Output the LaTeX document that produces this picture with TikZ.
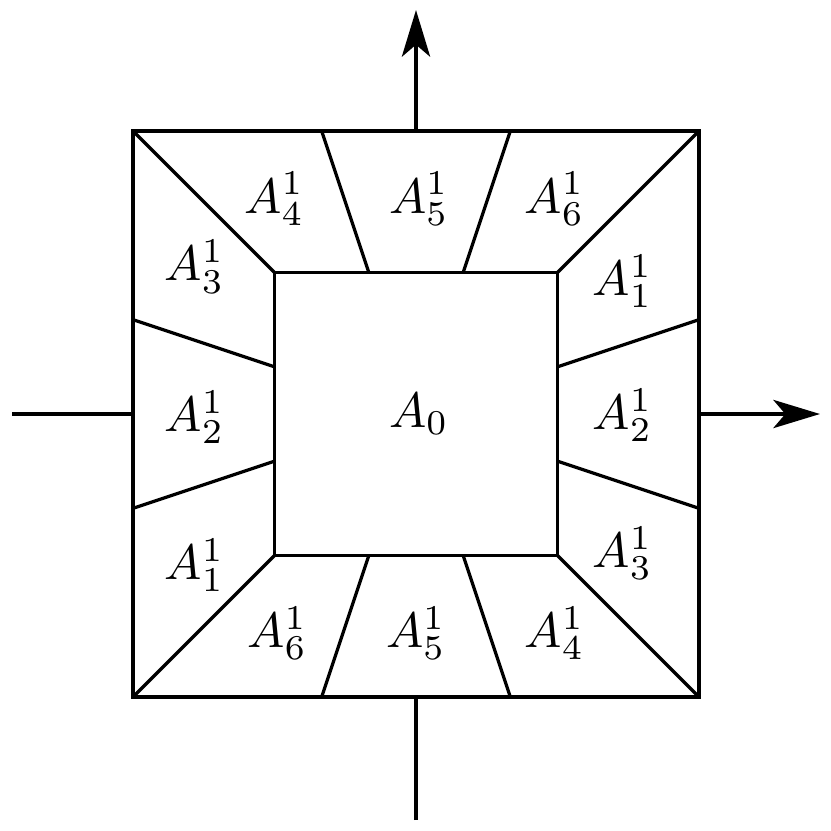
\documentclass[tikz,border=0pt]{standalone}
\usetikzlibrary{arrows.meta}
\begin{document}
\begin{tikzpicture}[
  every path/.style={line width=0.65pt, line join=miter},
  axisarrow/.style={-{Stealth[length=0.33cm,width=0.2cm,inset=0.085cm]}},
  lbl/.style={inner sep=0pt}
]
\useasboundingbox (-2.94,-2.94) rectangle (2.933,2.926);
% corners
\coordinate (O1) at (-2,2); \coordinate (O2) at (2,2);
\coordinate (O3) at (2,-2); \coordinate (O4) at (-2,-2);
\coordinate (I1) at (-1,1); \coordinate (I2) at (1,1);
\coordinate (I3) at (1,-1); \coordinate (I4) at (-1,-1);
% axes
\coordinate (xl) at (-2.855,0); \coordinate (xr) at (2.855,0);
\coordinate (yb) at (0,-2.87); \coordinate (yt) at (0,2.855);
\coordinate (ol) at (-2,0); \coordinate (or) at (2,0);
\coordinate (ob) at (0,-2); \coordinate (ot) at (0,2);
\draw (xl) -- (ol);
\draw[axisarrow] (or) -- (xr);
\draw (yb) -- (ob);
\draw[axisarrow] (ot) -- (yt);
% squares
\draw (O1) -- (O2) -- (O3) -- (O4) -- cycle;
\draw (I1) -- (I2) -- (I3) -- (I4) -- cycle;
% diagonals
\draw (O1) -- (I1); \draw (O2) -- (I2);
\draw (O3) -- (I3); \draw (O4) -- (I4);
% radial dividers
\foreach \s in {-1,1}{
  \draw (\s*2/3,2) -- (\s/3,1);
  \draw (\s*2/3,-2) -- (\s/3,-1);
  \draw (2,\s*2/3) -- (1,\s/3);
  \draw (-2,\s*2/3) -- (-1,\s/3);
}
% labels
\node[lbl] (a0) at (0.02,0) {$A_0$};
\node[lbl] (t4) at (-1.0,1.52) {$A_4^1$};
\node[lbl] (t5) at (0.02,1.52) {$A_5^1$};
\node[lbl] (t6) at (0.98,1.52) {$A_6^1$};
\node[lbl] (l3) at (-1.565,1.04) {$A_3^1$};
\node[lbl] (l2) at (-1.565,-0.025) {$A_2^1$};
\node[lbl] (l1) at (-1.565,-1.07) {$A_1^1$};
\node[lbl] (r1) at (1.46,0.94) {$A_1^1$};
\node[lbl] (r2) at (1.46,-0.01) {$A_2^1$};
\node[lbl] (r3) at (1.46,-0.985) {$A_3^1$};
\node[lbl] (b6) at (-0.98,-1.55) {$A_6^1$};
\node[lbl] (b5) at (0,-1.55) {$A_5^1$};
\node[lbl] (b4) at (0.98,-1.55) {$A_4^1$};
\end{tikzpicture}
\end{document}
